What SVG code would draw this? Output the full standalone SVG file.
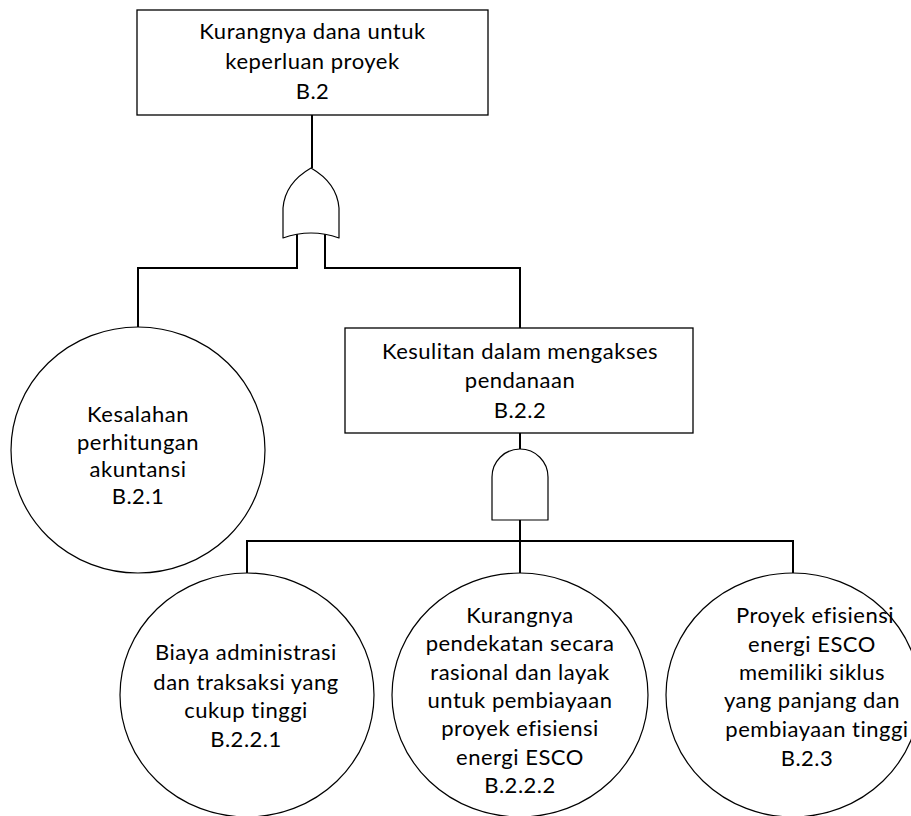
<svg xmlns="http://www.w3.org/2000/svg" width="911" height="816" viewBox="0 0 911 816">
  <defs>
    <style>
      .bg { fill: #ffffff; }
      .box { fill: #ffffff; stroke: #000000; stroke-width: 1.3; }
      .event { fill: #ffffff; stroke: #000000; stroke-width: 1.2; }
      .gate { fill: #ffffff; stroke: #000000; stroke-width: 1.2; stroke-linejoin: round; }
      .wire { fill: none; stroke: #000000; stroke-width: 2; stroke-linejoin: miter; }
      .label { font-family: "Lato", "Open Sans", "Liberation Sans", sans-serif; font-size: 22px; fill: #000000; text-anchor: middle; letter-spacing: 0.5px; }
    </style>
  </defs>

  <rect class="bg" x="0" y="0" width="911" height="816"/>

  <!-- connectors -->
  <g id="connectors">
    <!-- top event to OR gate -->
    <path class="wire" d="M312,115 V168"/>
    <!-- OR gate inputs -->
    <path class="wire" d="M297,232 V268 H138 V327"/>
    <path class="wire" d="M325,232 V268 H520 V328"/>
    <!-- B.2.2 to AND gate -->
    <path class="wire" d="M520,433 V449"/>
    <!-- AND gate inputs bus -->
    <path class="wire" d="M520,520 V541"/>
    <path class="wire" d="M247,573 V541 H793 V573"/>
    <path class="wire" d="M520,541 V573"/>
  </g>

  <!-- gates -->
  <g id="gate-or">
    <path class="gate" d="M283,238 L283,208 Q285,183 311,168 Q337,183 339,208 L339,238 Q311,228 283,238 Z"/>
  </g>
  <g id="gate-and">
    <path class="gate" d="M492,520 L492,477 A28,28 0 0 1 548,477 L548,520 Z"/>
  </g>

  <!-- top event -->
  <g id="node-B2">
    <rect class="box" x="137" y="10" width="351" height="105"/>
    <text class="label" x="312.5" y="39">Kurangnya dana untuk</text>
    <text class="label" x="312.5" y="69">keperluan proyek</text>
    <text class="label" x="312.5" y="99">B.2</text>
  </g>

  <!-- intermediate event -->
  <g id="node-B22">
    <rect class="box" x="345" y="328" width="348" height="105"/>
    <text class="label" x="520" y="359">Kesulitan dalam mengakses</text>
    <text class="label" x="520" y="388">pendanaan</text>
    <text class="label" x="520" y="418">B.2.2</text>
  </g>

  <!-- basic events -->
  <g id="node-B21">
    <ellipse class="event" cx="138" cy="450" rx="127" ry="123"/>
    <text class="label" x="138" y="422">Kesalahan</text>
    <text class="label" x="138" y="450">perhitungan</text>
    <text class="label" x="138" y="477">akuntansi</text>
    <text class="label" x="138" y="504">B.2.1</text>
  </g>

  <g id="node-B221">
    <ellipse class="event" cx="247" cy="695" rx="127" ry="122"/>
    <text class="label" x="246" y="660">Biaya administrasi</text>
    <text class="label" x="246" y="690">dan traksaksi yang</text>
    <text class="label" x="246" y="718">cukup tinggi</text>
    <text class="label" x="246" y="747">B.2.2.1</text>
  </g>

  <g id="node-B222">
    <ellipse class="event" cx="520" cy="695" rx="128" ry="122"/>
    <text class="label" x="520" y="623">Kurangnya</text>
    <text class="label" x="520" y="651">pendekatan secara</text>
    <text class="label" x="520" y="680">rasional dan layak</text>
    <text class="label" x="520" y="708">untuk pembiayaan</text>
    <text class="label" x="520" y="736">proyek efisiensi</text>
    <text class="label" x="520" y="765">energi ESCO</text>
    <text class="label" x="520" y="793">B.2.2.2</text>
  </g>

  <g id="node-B23">
    <ellipse class="event" cx="793" cy="695" rx="127" ry="122"/>
    <text class="label" x="815" y="623">Proyek efisiensi</text>
    <text class="label" x="812" y="652">energi ESCO</text>
    <text class="label" x="812" y="680">memiliki siklus</text>
    <text class="label" x="812" y="708">yang panjang dan</text>
    <text class="label" x="817" y="737">pembiayaan tinggi</text>
    <text class="label" x="807" y="766">B.2.3</text>
  </g>
</svg>
